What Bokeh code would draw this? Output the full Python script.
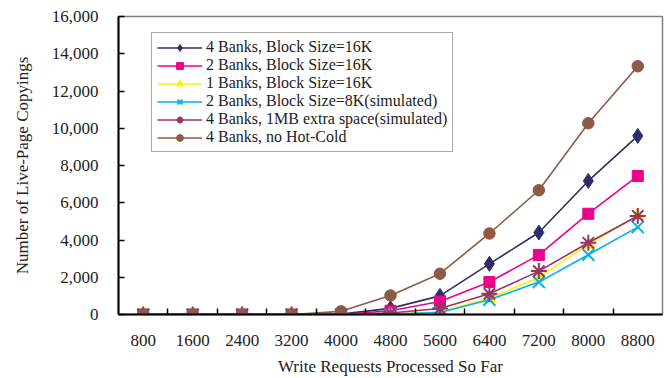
from bokeh.plotting import figure
from bokeh.models import (Range1d, FixedTicker, NumeralTickFormatter, Legend, LegendItem,
                          ColumnDataSource)
from bokeh.embed import file_html
from bokeh.resources import INLINE

categories = ["800", "1600", "2400", "3200", "4000", "4800", "5600", "6400", "7200", "8000", "8800"]
banks4_16k = [0, 0, 0, 0, 20, 330, 1000, 2720, 4400, 7170, 9590]
banks2_16k = [0, 0, 0, 0, 0, 200, 700, 1740, 3200, 5410, 7440]
banks1_16k = [0, 0, 0, 0, 0, 30, 140, 870, 1990, 3760, 5320]
banks2_8k_sim = [0, 0, 0, 0, 0, 20, 110, 790, 1740, 3210, 4690]
banks4_1mb_sim = [0, 0, 0, 0, 0, 80, 320, 1110, 2330, 3850, 5290]
banks4_nohotcold = [0, 0, 0, 0, 170, 1020, 2190, 4350, 6670, 10270, 13330]
y_ticks = [0, 2000, 4000, 6000, 8000, 10000, 12000, 14000, 16000]

series = [
    ("4 Banks, Block Size=16K", banks4_16k, "#2E2D6B", "diamond", 15),
    ("2 Banks, Block Size=16K", banks2_16k, "#EC008C", "square", 11),
    ("1 Banks, Block Size=16K", banks1_16k, "#FFF200", "triangle", 13),
    ("2 Banks, Block Size=8K(simulated)", banks2_8k_sim, "#00B0F0", "x", 17),
    ("4 Banks, 1MB extra space(simulated)", banks4_1mb_sim, "#993366", "asterisk", 16),
    ("4 Banks, no Hot-Cold", banks4_nohotcold, "#8F5A45", "circle", 11.5),
]

xs = list(range(len(categories)))
FONT = "Liberation Serif"
TXT = "#222222"

p = figure(frame_width=544, frame_height=298, output_backend="svg", toolbar_location=None,
           x_range=Range1d(-0.5, len(categories) - 0.5), y_range=Range1d(0, 16000),
           min_border_left=118, min_border_right=6, min_border_top=16, min_border_bottom=0)
p.xgrid.visible = False
p.ygrid.visible = False
p.outline_line_color = "#7f7f7f"
p.outline_line_width = 1.5
p.background_fill_color = "white"

items = []
for name, vals, color, marker, size in series:
    src = ColumnDataSource(dict(x=xs, y=vals))
    r1 = p.line("x", "y", source=src, line_color=color, line_width=1.6)
    if marker in ("x", "asterisk"):
        r2 = p.scatter("x", "y", source=src, marker=marker, size=size, line_color=color,
                       line_width=2, fill_color=None)
    else:
        r2 = p.scatter("x", "y", source=src, marker=marker, size=size,
                       line_color=color, fill_color=color)
    items.append(LegendItem(label=name, renderers=[r1, r2]))

legend = Legend(items=items, location=(33, 162), label_text_font=FONT,
                label_text_font_size="16px", label_text_color=TXT, label_height=17,
                glyph_height=17, glyph_width=45, label_standoff=4, spacing=0, padding=5,
                margin=0, border_line_color="#555555", border_line_width=1.5,
                background_fill_alpha=1)
p.add_layout(legend, "center")

xa = p.xaxis[0]
xa.ticker = FixedTicker(ticks=xs, minor_ticks=[i + 0.5 for i in xs[:-1]])
xa.major_label_overrides = {i: c for i, c in zip(xs, categories)}
xa.major_tick_line_color = None
xa.minor_tick_in = 6
xa.minor_tick_out = 0
xa.minor_tick_line_color = "black"
xa.minor_tick_line_width = 1.5
xa.axis_line_color = "black"
xa.axis_line_width = 2
xa.major_label_standoff = 14
xa.major_label_text_font = FONT
xa.major_label_text_font_size = "17px"
xa.major_label_text_color = TXT
xa.axis_label = "Write Requests Processed So Far"
xa.axis_label_text_font = FONT
xa.axis_label_text_font_size = "17px"
xa.axis_label_text_font_style = "normal"
xa.axis_label_text_color = TXT
xa.axis_label_standoff = 8

ya = p.yaxis[0]
ya.ticker = FixedTicker(ticks=y_ticks)
ya.formatter = NumeralTickFormatter(format="0,0")
ya.major_tick_in = 6
ya.major_tick_out = 0
ya.major_tick_line_width = 1.5
ya.minor_tick_line_color = None
ya.axis_line_color = "black"
ya.axis_line_width = 2
ya.major_label_standoff = 20
ya.major_label_text_font = FONT
ya.major_label_text_font_size = "17px"
ya.major_label_text_color = TXT
ya.axis_label = "Number of Live-Page Copyings"
ya.axis_label_text_font = FONT
ya.axis_label_text_font_size = "17px"
ya.axis_label_text_font_style = "normal"
ya.axis_label_text_color = TXT
ya.axis_label_standoff = 17

open("out.html", "w").write(file_html(p, INLINE))
